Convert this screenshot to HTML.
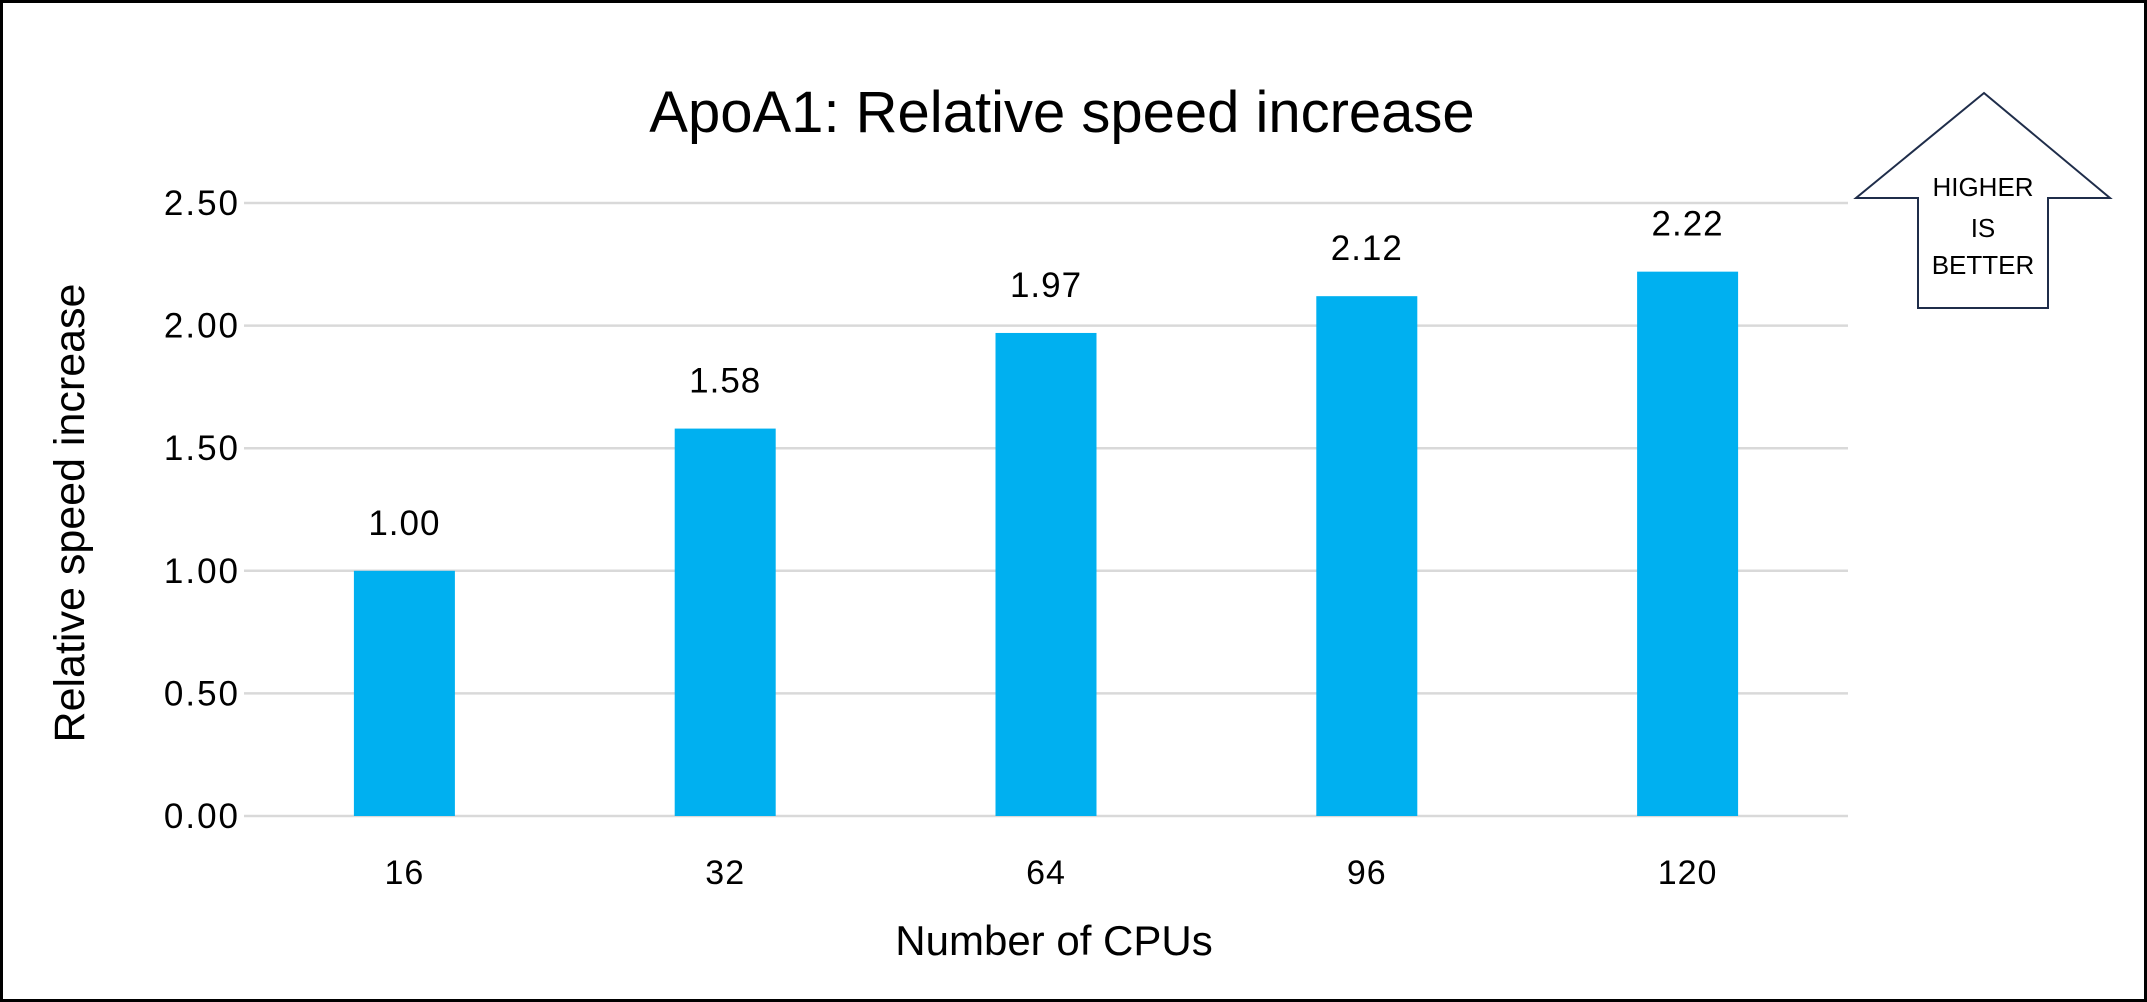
<!DOCTYPE html>
<html><head><meta charset="utf-8"><style>
html,body{margin:0;padding:0;background:#fff;}
svg{display:block;font-family:"Liberation Sans",sans-serif;}
</style></head><body>
<svg id="chart" width="2147" height="1002" viewBox="0 0 2147 1002">
<rect x="1.5" y="1.5" width="2144" height="999" fill="#fff" stroke="#000" stroke-width="3"/>
<text x="1062" y="132" font-size="58" text-anchor="middle" fill="#000">ApoA1: Relative speed increase</text>
<text transform="translate(84,513) rotate(-90)" font-size="43" text-anchor="middle" fill="#000">Relative speed increase</text>
<text x="1054" y="955" font-size="42" text-anchor="middle" fill="#000">Number of CPUs</text>
<g id="grid"></g><g id="bars"></g>
<g>
<polygon points="1984,93 2110,198 2048,198 2048,308 1918,308 1918,198 1856,198" fill="#fff" stroke="#1f2d4a" stroke-width="2"/>
<text x="1983" y="196" font-size="26" text-anchor="middle" fill="#000">HIGHER</text>
<text x="1983" y="237" font-size="26" text-anchor="middle" fill="#000">IS</text>
<text x="1983" y="274" font-size="26" text-anchor="middle" fill="#000">BETTER</text>
</g>
</svg>
<script>
const categories = ["16","32","64","96","120"];
const values = [1.00,1.58,1.97,2.12,2.22];
const valueLabels = ["1.00","1.58","1.97","2.12","2.22"];
const yTicks = [0,0.5,1,1.5,2,2.5];
const yTickLabels = ["0.00","0.50","1.00","1.50","2.00","2.50"];
const NS="http://www.w3.org/2000/svg";
const L=244,R=1848,T=203,B=816,yMax=2.5;
const y=v=>B-(v/yMax)*(B-T);
const band=(R-L)/categories.length;
const xc=i=>L+band*(i+0.5);
const grid=document.getElementById('grid'), bars=document.getElementById('bars');
function mk(tag,attrs,parent){const e=document.createElementNS(NS,tag);for(const k in attrs)e.setAttribute(k,attrs[k]);parent.appendChild(e);return e;}
yTicks.forEach((t,i)=>{
  const ln=mk('line',{x1:L,x2:R,y1:y(t),y2:y(t),stroke:'#d9d9d9','stroke-width':2.5},grid);
  
  
  const tx=mk('text',{x:240,y:y(t)+12,'font-size':35,'letter-spacing':2,'text-anchor':'end',fill:'#000'},grid);
  tx.textContent=yTickLabels[i];
  
  
});
const bw=101;
values.forEach((v,i)=>{
  const r=mk('rect',{x:xc(i)-bw/2,y:y(v),width:bw,height:B-y(v),fill:'#00b0f0'},bars);
  
  
  const lb=mk('text',{x:xc(i),y:y(v)-36,'font-size':35,'letter-spacing':1,'text-anchor':'middle',fill:'#000'},bars);
  lb.textContent=valueLabels[i];
  
  
  const xl=mk('text',{x:xc(i),y:884,'font-size':34,'letter-spacing':1,'text-anchor':'middle',fill:'#000'},bars);
  xl.textContent=categories[i];
  
  
});
</script>
</body></html>
